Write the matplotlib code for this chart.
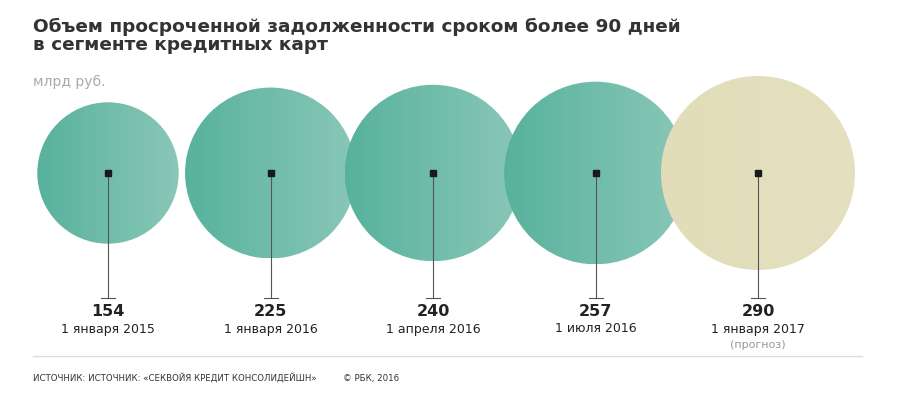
import numpy as np
import matplotlib
matplotlib.use("Agg")
import matplotlib.pyplot as plt
from matplotlib.patches import Circle
from matplotlib.colors import LinearSegmentedColormap

values = [154, 225, 240, 257, 290]
labels = ["1 января 2015", "1 января 2016", "1 апреля 2016", "1 июля 2016", "1 января 2017"]
forecast = [False, False, False, False, True]

fig = plt.figure(figsize=(9, 4), dpi=100)
ax = fig.add_axes([0, 0, 1, 1])
ax.axis("off")

# circle area proportional to value
k = 97 / np.sqrt(max(values))
cy = 173
teal = LinearSegmentedColormap.from_list("teal", ["#57b29c", "#8ac7b8"])
beige = LinearSegmentedColormap.from_list("beige", ["#e2ddb8", "#e4e0c0"])
grad = np.linspace(0, 1, 256).reshape(1, -1)

for i, (v, lab, fc) in enumerate(zip(values, labels, forecast)):
    cx = 108 + i * 162.5
    r = k * np.sqrt(v)
    circ = Circle((cx, cy), r, transform=ax.transData, facecolor="none", edgecolor="none")
    ax.add_patch(circ)
    im = ax.imshow(grad, cmap=beige if fc else teal, extent=(cx - r, cx + r, cy + r, cy - r),
                   aspect="auto", zorder=1)
    im.set_clip_path(circ)
    ax.plot([cx, cx], [cy, 298], color="#555555", lw=0.8, zorder=2)
    ax.plot([cx - 7, cx + 7], [298, 298], color="#555555", lw=0.8, zorder=2)
    ax.plot(cx, cy, marker="s", color="#1a1a1a", ms=5, zorder=3)
    ax.text(cx, 311, str(v), ha="center", va="center", fontsize=11.5, fontweight="bold", color="#222222")
    ax.text(cx, 329, lab, ha="center", va="center", fontsize=9, color="#222222")
    if fc:
        ax.text(cx, 345, "(прогноз)", ha="center", va="center", fontsize=8, color="#999999")

ax.set_xlim(0, 900)
ax.set_ylim(400, 0)

ax.text(33, 36, "Объем просроченной задолженности сроком более 90 дней\nв сегменте кредитных карт",
        ha="left", va="center", fontsize=13.3, fontweight="bold", color="#333333", linespacing=1.05)
ax.text(33, 82, "млрд руб.", ha="left", va="center", fontsize=10, color="#aaaaaa")
ax.plot([33, 862], [356, 356], color="#dddddd", lw=1)
ax.text(33, 378, "ИСТОЧНИК: ИСТОЧНИК: «СЕКВОЙЯ КРЕДИТ КОНСОЛИДЕЙШН»", ha="left", va="center",
        fontsize=6.2, color="#333333")
ax.text(343, 378, "© РБК, 2016", ha="left", va="center", fontsize=6.2, color="#333333")

fig.savefig("out.png", dpi=100)
